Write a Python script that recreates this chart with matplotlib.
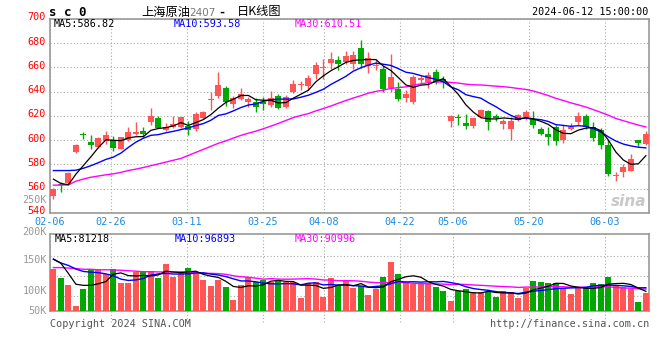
import numpy as np
import pandas as pd
import matplotlib
matplotlib.use('Agg')
import matplotlib.pyplot as plt
from matplotlib.transforms import ScaledTranslation

# Datos (sc0, diario)
fechas = ['02-06', '02-26', '03-11', '03-25', '04-08', '04-22', '05-06', '05-20', '06-03']
idx_fechas = [0, 8, 18, 28, 36, 46, 53, 63, 73]

apertura = [554.3, 564.0, 564.4, 590.2, 604.3, 598.9, 594.3, 599.2, 599.8, 592.9,
            600.0, 604.9, 607.9, 614.7, 618.5, 608.5, 610.9, 610.9, 611.4, 609.0,
            618.3, 633.5, 636.5, 643.3, 630.2, 634.0, 631.8, 631.8, 631.8, 629.1,
            636.5, 627.8, 640.0, 645.4, 644.7, 654.4, 659.5, 663.7, 665.9, 664.5,
            663.2, 676.2, 661.2, 661.2, 659.1, 643.3, 642.2, 635.1, 631.8, 649.6,
            648.2, 656.3, 650.4, 615.5, 619.2, 613.9, 611.4, 618.8, 624.2, 619.6,
            613.6, 609.6, 616.3, 618.8, 617.5, 609.6, 605.5, 610.9, 599.8, 609.3,
            614.7, 620.2, 610.9, 608.7, 595.7, 570.4, 574.2, 574.7, 600.0, 597.3]
maximo = [560.5, 565.7, 573.9, 597.1, 606.9, 604.7, 602.4, 607.9, 603.3, 603.0,
          610.6, 614.7, 611.2, 626.4, 620.4, 614.2, 620.2, 619.5, 615.5, 623.7,
          624.5, 639.5, 656.3, 644.7, 636.5, 642.8, 635.9, 635.1, 636.0, 640.6,
          638.1, 637.5, 649.6, 648.7, 654.2, 664.5, 666.7, 672.7, 669.4, 673.2,
          674.0, 683.0, 672.7, 667.0, 661.2, 670.8, 648.2, 641.4, 653.5, 654.2,
          656.3, 658.9, 653.1, 620.5, 621.6, 621.6, 618.5, 625.5, 625.1, 621.6,
          617.5, 618.8, 622.0, 625.1, 624.2, 611.0, 610.9, 612.8, 612.8, 614.2,
          622.9, 621.8, 614.7, 610.1, 600.0, 573.9, 580.2, 588.3, 600.5, 607.3]
minimo = [551.3, 557.6, 563.8, 589.8, 601.1, 592.4, 593.8, 597.1, 591.0, 592.4,
          599.6, 604.5, 602.4, 612.2, 609.8, 607.4, 610.1, 610.5, 604.1, 607.9,
          617.5, 625.1, 634.6, 628.6, 626.4, 633.2, 627.8, 623.7, 625.0, 627.8,
          625.5, 626.9, 639.0, 641.4, 641.4, 650.9, 650.9, 659.1, 657.7, 663.2,
          659.1, 659.9, 655.8, 657.7, 640.0, 640.0, 632.7, 631.8, 630.0, 646.9,
          642.8, 646.0, 642.8, 610.6, 612.8, 609.6, 610.0, 618.0, 608.7, 616.0,
          609.6, 600.6, 615.5, 616.9, 610.1, 604.0, 595.7, 595.7, 597.9, 608.7,
          612.8, 609.6, 599.2, 592.4, 570.6, 566.5, 569.3, 574.7, 595.0, 595.7]
cierre = [559.8, 563.5, 572.8, 595.7, 604.0, 595.7, 601.6, 604.7, 593.8, 602.4,
          607.1, 606.5, 605.2, 619.6, 610.1, 610.6, 613.6, 618.8, 608.2, 621.8,
          622.9, 634.0, 645.5, 631.8, 635.1, 638.1, 634.3, 627.8, 629.7, 635.1,
          626.9, 635.7, 646.3, 645.9, 651.4, 661.8, 660.2, 667.3, 662.6, 669.1,
          669.9, 663.2, 668.1, 662.4, 642.2, 651.8, 633.8, 638.1, 652.2, 651.4,
          654.2, 648.2, 647.7, 620.2, 618.6, 611.4, 618.0, 625.1, 615.0, 618.3,
          615.5, 615.5, 621.0, 623.7, 612.2, 605.5, 602.8, 599.2, 608.7, 610.9,
          620.2, 610.9, 602.0, 595.7, 572.0, 570.8, 578.0, 584.2, 597.9, 605.5]
volumen = [173000, 138000, 108000, 22000, 91000, 173000, 170000, 154000, 176000, 117000,
           117000, 161000, 166000, 166000, 138000, 195000, 142000, 156000, 180000, 152000,
           129000, 105000, 129000, 100000, 46000, 108000, 140000, 122000, 129000, 119000,
           125000, 119000, 119000, 55000, 117000, 119000, 59000, 138000, 104000, 125000,
           97000, 104000, 66000, 91000, 141000, 205000, 154000, 119000, 111000, 111000,
           111000, 100000, 83000, 42000, 84000, 91000, 78000, 78000, 78000, 58000,
           83000, 78000, 55000, 97000, 125000, 120000, 116000, 116000, 94000, 72000,
           94000, 94000, 116000, 112000, 141000, 105000, 100000, 91000, 37000, 75000]

# Medias al inicio (dependen de dias anteriores al 02-06)
ma5_ini = [567.9, 564.4, 563.3, 572.0]
ma10_ini = [575.0, 575.0, 575.0, 575.3, 576.9, 579.0, 581.5, 584.2, 586.1]
ma30_ini = [563.0, 563.0, 563.2, 566.2, 568.0, 569.5, 570.5, 571.5, 572.3, 573.5,
            575.0, 576.2, 577.5, 579.0, 580.5, 582.0, 583.5, 585.0, 587.5, 590.0,
            592.5, 595.0, 597.5, 599.5, 601.8, 604.0, 605.8, 607.5, 609.5]
vma5_ini = [215000, 198000, 156000, 111000]
vma10_ini = [215000, 199000, 189000, 174000, 164000, 161000, 159000, 154000, 146000]
vma30_ini = [180000, 180000, 178000, 176000, 173000, 173000, 171000, 171000, 170000, 169000,
             167000, 165000, 163000, 163000, 162000, 162000, 162000, 162000, 161000, 159000,
             156000, 156000, 155000, 152000, 146000, 142000, 140000, 136000, 132000]


def media(serie, n, ini):
    m = pd.Series(serie, dtype=float).rolling(n).mean().values
    m[:len(ini)] = ini
    return m


ma5 = media(cierre, 5, ma5_ini)
ma10 = media(cierre, 10, ma10_ini)
ma30 = media(cierre, 30, ma30_ini)
vma5 = media(volumen, 5, vma5_ini)
vma10 = media(volumen, 10, vma10_ini)
vma30 = media(volumen, 30, vma30_ini)

ROJO = '#FF5555'
VERDE = '#00A800'
AZUL = '#0000FF'
MAGENTA = '#FF00FF'
GRIS = '#999999'
FECHA = '#1C8AE0'
MONO = 'DejaVu Sans Mono'

o = np.array(apertura); c = np.array(cierre)
x = np.arange(len(c))
sube = c >= o
colores = np.where(sube, ROJO, VERDE)

W, H = 660, 360
fig = plt.figure(figsize=(6.6, 3.6), dpi=100)

def caja(x0, y0, x1, y1):
    return [x0 / W, 1 - y1 / H, (x1 - x0) / W, (y1 - y0) / H]

ax = fig.add_axes(caja(50, 19, 649, 213))
axv = fig.add_axes(caja(50, 234.3, 649, 311))

xmin = -0.45
xmax = xmin + 599 / 7.5
pos_fechas = [xmin + d * 1.0133 for d in idx_fechas]
grid_kw = dict(color='#AAAAAA', linestyle=(0, (1, 2)), linewidth=0.8)

# Velas
ax.vlines(x, minimo, maximo, colors=colores, linewidth=1.0, zorder=3)
cuerpo = np.maximum(np.abs(c - o), 0.8)
ax.bar(x, cuerpo, bottom=np.minimum(o, c), width=0.8, color=colores,
       linewidth=0, zorder=4)
ax.plot(x, ma30, color=MAGENTA, linewidth=1.0, zorder=5)
ax.plot(x, ma10, color=AZUL, linewidth=1.0, zorder=5)
ax.plot(x, ma5, color='black', linewidth=0.9, zorder=5)

ax.set_xlim(xmin, xmax)
ax.set_ylim(540, 700)
ax.set_yticks(np.arange(540, 701, 20))
ax.set_yticklabels([str(v) for v in range(540, 701, 20)], color='red',
                   fontsize=7.3, family=MONO)
ax.set_xticks(pos_fechas)
ax.set_xticklabels(fechas, color=FECHA, fontsize=7.3, family=MONO)
ax.tick_params(length=0, pad=3)
sube_txt = ScaledTranslation(0, 2.5 / 100, fig.dpi_scale_trans)
for t in ax.get_yticklabels():
    t.set_transform(t.get_transform() + sube_txt)
ax.grid(True, **grid_kw)
ax.set_axisbelow(True)

# Volumen
axv.bar(x, volumen, width=0.8, color=colores, linewidth=0, zorder=3)
axv.plot(x, vma30, color=MAGENTA, linewidth=1.0, zorder=4)
axv.plot(x, vma10, color=AZUL, linewidth=1.0, zorder=4)
axv.plot(x, vma5, color='black', linewidth=0.9, zorder=4)
axv.set_xlim(xmin, xmax)
axv.set_ylim(0, 318000)
axv.set_yticks([63500, 146500, 229500])
axv.set_yticklabels([])
axv.set_xticks(pos_fechas)
axv.set_xticklabels([])
axv.tick_params(length=0)
axv.grid(True, **grid_kw)
axv.set_axisbelow(True)
# las lineas de fecha bajan un poco por debajo del panel
axv.vlines(pos_fechas[1:], -44000, 0, clip_on=False, **grid_kw)

for a in (ax, axv):
    for s in a.spines.values():
        s.set_color(GRIS)
        s.set_linewidth(1.2)

def texto(px, py, s, **kw):
    kw.setdefault('family', MONO)
    kw.setdefault('fontsize', 7.3)
    kw.setdefault('va', 'center')
    fig.text(px / W, 1 - py / H, s, **kw)

# Cabecera
texto(49, 12, 's c 0', fontsize=9, weight='bold')
cjk = ['Noto Sans CJK SC', 'DejaVu Sans']
texto(141, 12, '上海原油', family=cjk, fontsize=8.8)
texto(189, 12.5, '2407', family='DejaVu Sans', fontsize=7.5, color='#777777')
texto(218, 12, '-', fontsize=8.5, weight='bold')
texto(237, 12, '日K线图', family=cjk, fontsize=8.8)
texto(648, 12, '2024-06-12 15:00:00', ha='right')

texto(54, 24, 'MA5:586.82', color='black')
texto(174, 24, 'MA10:593.58', color=AZUL)
texto(295, 24, 'MA30:610.51', color=MAGENTA)

texto(54.5, 238.7, 'MA5:81218', color='black')
texto(174.5, 238.7, 'MA10:96893', color=AZUL)
texto(294.5, 238.7, 'MA30:90996', color=MAGENTA)

for s, py in [('250K', 200.3), ('200K', 231.5), ('150K', 259.7), ('100K', 290.7), ('50K', 311.3)]:
    texto(47, py, s, ha='right', color=GRIS)

texto(50, 323.7, 'Copyright 2024 SINA.COM', color='#555555')
texto(649, 324, 'http://finance.sina.com.cn', ha='right', color='#555555')

# Marca de agua
ax.text(0.995, 0.06, 'sina', transform=ax.transAxes, ha='right', va='center',
        fontsize=11, style='italic', weight='bold', color='#C8C8C8', zorder=6)

fig.savefig('out.png', dpi=100)
